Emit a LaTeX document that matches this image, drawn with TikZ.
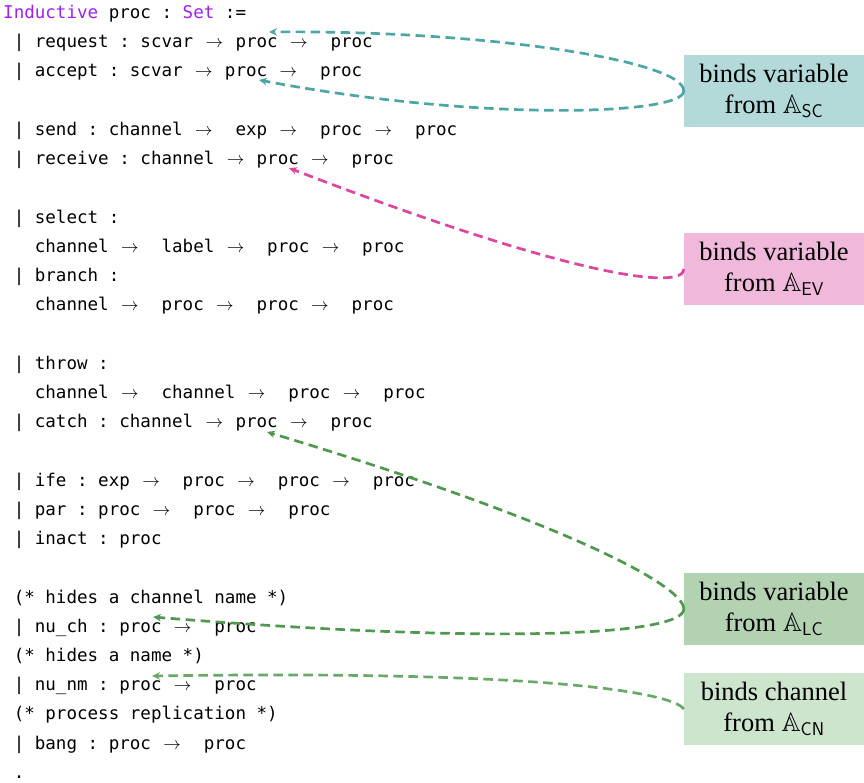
\RequirePackage{fix-cm}
\documentclass[tikz,border=0pt]{standalone}
\usepackage{amssymb}
\usepackage{fontspec}
\setmonofont{DejaVu Sans Mono}
\newfontfamily\labelfont{Liberation Serif}
\usetikzlibrary{arrows.meta}
\definecolor{kw}{RGB}{160,32,240}
\definecolor{tealA}{RGB}{77,166,166}
\definecolor{tealB}{RGB}{179,217,217}
\definecolor{pinkA}{RGB}{221,70,160}
\definecolor{pinkB}{RGB}{240,185,220}
\definecolor{greenA}{RGB}{80,152,80}
\definecolor{greenB}{RGB}{178,210,178}
\definecolor{greenC}{RGB}{105,168,105}
\definecolor{greenD}{RGB}{205,228,205}
\newlength\cw \setlength\cw{10.56pt}
\newcommand\ra{\makebox[2\cw]{$\rightarrow$}}
\newcommand\kwd[1]{\textcolor{kw}{#1}}
\begin{document}
\begin{tikzpicture}[x=1pt,y=-1pt,
  code/.style={anchor=base west,inner sep=0pt,font=\ttfamily\fontsize{17.54}{20}\selectfont\frenchspacing},
  label/.style={minimum width=180pt,minimum height=72pt,inner sep=0pt,align=center,
    font=\labelfont\fontsize{26.5}{31.5}\selectfont},
  conn/.style={dash pattern=on 9.5pt off 5.5pt,line width=2.7pt,-{Stealth[length=8pt,width=7.5pt]}}]
\useasboundingbox (0,0) rectangle (864,782);
% code lines
\node[code] (l0) at (3,18.4) {\kwd{Inductive} proc : \kwd{Set} :=};
\node[code] (l1) at (13.56,47.63) {| request : scvar \ra{} proc \ra{}~ proc};
\node[code] (l2) at (13.56,76.86) {| accept : scvar \ra{} proc \ra{}~ proc};
\node[code] (l4) at (13.56,135.32) {| send : channel \ra{}~ exp \ra{}~ proc \ra{}~ proc};
\node[code] (l5) at (13.56,164.55) {| receive : channel \ra{} proc \ra{}~ proc};
\node[code] (l7) at (13.56,223.01) {| select :};
\node[code] (l8) at (34.68,252.24) {channel \ra{}~ label \ra{}~ proc \ra{}~ proc};
\node[code] (l9) at (13.56,281.47) {| branch :};
\node[code] (l10) at (34.68,310.70) {channel \ra{}~ proc \ra{}~ proc \ra{}~ proc};
\node[code] (l12) at (13.56,369.16) {| throw :};
\node[code] (l13) at (34.68,398.39) {channel \ra{}~ channel \ra{}~ proc \ra{}~ proc};
\node[code] (l14) at (13.56,427.62) {| catch : channel \ra{} proc \ra{}~ proc};
\node[code] (l16) at (13.56,486.08) {| ife : exp \ra{}~ proc \ra{}~ proc \ra{}~ proc};
\node[code] (l17) at (13.56,515.31) {| par : proc \ra{}~ proc \ra{}~ proc};
\node[code] (l18) at (13.56,544.54) {| inact : proc};
\node[code] (l20) at (13.56,603.00) {(* hides a channel name *)};
\node[code] (l21) at (13.56,632.23) {| nu\_ch : proc \ra{}~ proc};
\node[code] (l22) at (13.56,661.46) {(* hides a name *)};
\node[code] (l23) at (13.56,690.69) {| nu\_nm : proc \ra{}~ proc};
\node[code] (l24) at (13.56,719.92) {(* process replication *)};
\node[code] (l25) at (13.56,749.15) {| bang : proc \ra{}~ proc};
\node[code] (l26) at (13.56,778.38) {.};
% label boxes
\node[label,fill=tealB] (sc) at (774,91) {binds variable\\from $\mathbb{A}_{\mathsf{SC}}$};
\node[label,fill=pinkB] (ev) at (774,269) {binds variable\\from $\mathbb{A}_{\mathsf{EV}}$};
\node[label,fill=greenB] (lc) at (774,609) {binds variable\\from $\mathbb{A}_{\mathsf{LC}}$};
\node[label,fill=greenD] (cn) at (774,709) {binds channel\\from $\mathbb{A}_{\mathsf{CN}}$};
% arrow targets
\coordinate (treq) at (269,32);
\coordinate (tacc) at (259,80);
\coordinate (trec) at (289,168);
\coordinate (tcat) at (267,432);
\coordinate (tnch) at (153,617);
\coordinate (tnnm) at (152,676);
% connectors
\draw[conn,tealA] (sc.west) .. controls (684,60) and (480,30) .. (treq);
\draw[conn,tealA] (sc.west) .. controls (684,115) and (480,122) .. (tacc);
\draw[conn,pinkA] (ev.west) .. controls (684,290) and (580,280) .. (trec);
\draw[conn,greenA] (lc.west) .. controls (684,585) and (560,520) .. (tcat);
\draw[conn,greenA] (lc.west) .. controls (684,635) and (500,645) .. (tnch);
\draw[conn,greenC] (cn.west) .. controls (672,692) and (540,670) .. (tnnm);
\end{tikzpicture}
\end{document}
